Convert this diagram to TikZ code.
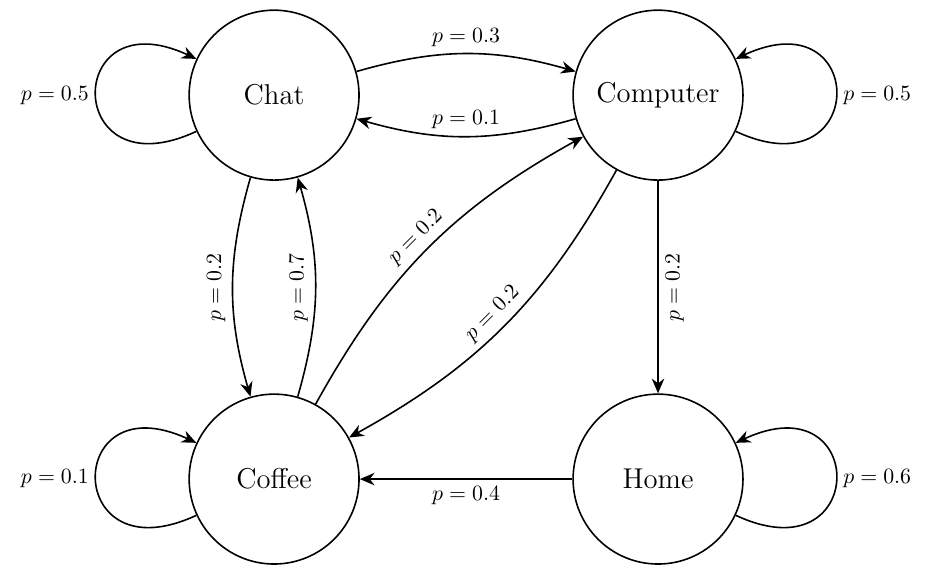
\documentclass[tikz,border=0pt]{standalone}
\usetikzlibrary{arrows.meta}
\newcommand{\plabel}[1]{\fontsize{11}{13}\selectfont $p = #1$}

\begin{document}
\begin{tikzpicture}[>={Stealth[length=2.6mm,width=2.2mm]}]
    \useasboundingbox (-4.84, 1.68) rectangle (11.60, -8.52);

    \node[circle, draw=black, thick, minimum size=3cm, font=\Large](chat) at (0.00, 0.00){Chat};
    \node[circle, draw=black, thick, minimum size=3cm, font=\Large](comp) at (6.78, 0.00){Computer};
    \node[circle, draw=black, thick, minimum size=3cm, font=\Large](coffee) at (0.00, -6.78){Coffee};
    \node[circle, draw=black, thick, minimum size=3cm, font=\Large](home) at (6.78, -6.78){Home};

    \draw[thick, ->] (chat) to[bend left=16] node[anchor=south](){\plabel{0.3}} (comp);
    \draw[thick, ->] (comp) to[bend left=16] node[anchor=south](){\plabel{0.1}} (chat);

    \draw[thick, ->] (chat) to[bend right=16] node[anchor=south, rotate=90](){\plabel{0.2}} (coffee);
    \draw[thick, ->] (coffee) to[bend right=16] node[anchor=south, rotate=90](){\plabel{0.7}} (chat);

    \draw[thick, ->] (coffee) to[bend left=16] node[anchor=south, rotate=45](){\plabel{0.2}} (comp);
    \draw[thick, ->] (comp) to[bend left=16] node[anchor=south, rotate=45](){\plabel{0.2}} (coffee);

    \draw[thick, ->] (comp) -- node[anchor=north, rotate=90](){\plabel{0.2}} (home);
    \draw[thick, ->] (home) -- node[anchor=north](){\plabel{0.4}} (coffee);

    \draw[thick, ->] (chat) to[loop, out=205, in=155, looseness=5, min distance=2.6cm] node[anchor=east](){\plabel{0.5}} (chat);
    \draw[thick, ->] (comp) to[loop, out=-25, in=25, looseness=5, min distance=2.6cm] node[anchor=west](){\plabel{0.5}} (comp);
    \draw[thick, ->] (coffee) to[loop, out=205, in=155, looseness=5, min distance=2.6cm] node[anchor=east](){\plabel{0.1}} (coffee);
    \draw[thick, ->] (home) to[loop, out=-25, in=25, looseness=5, min distance=2.6cm] node[anchor=west](){\plabel{0.6}} (home);
  \end{tikzpicture}
\end{document}
